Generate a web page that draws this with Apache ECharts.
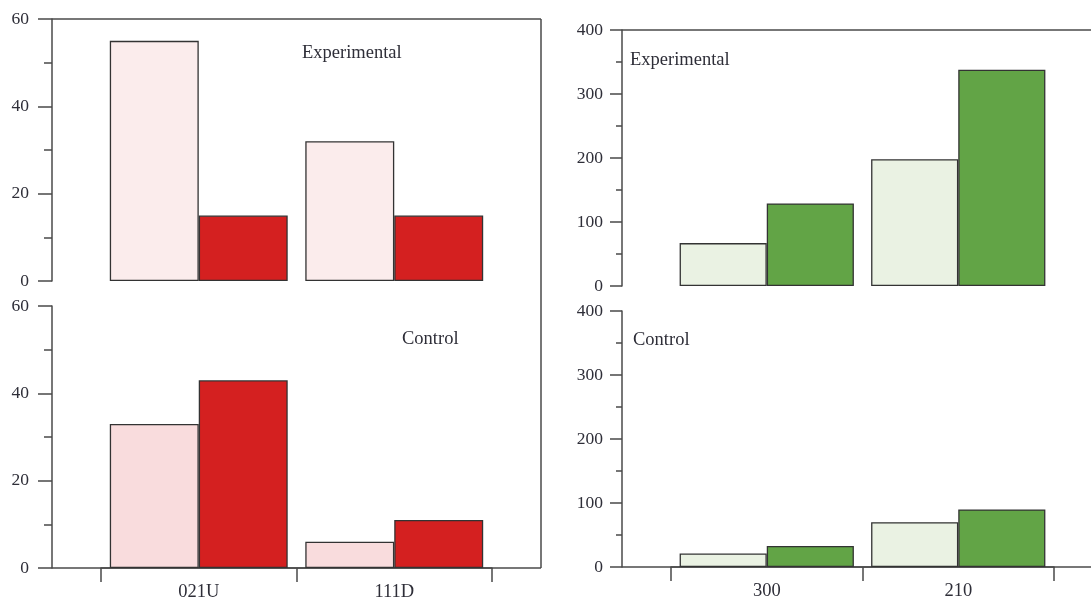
<!DOCTYPE html>
<html>
<head>
<meta charset="utf-8">
<script src="https://cdn.jsdelivr.net/npm/echarts@6/dist/echarts.min.js"></script>
<style>html,body{margin:0;padding:0;background:#fff;}#c{width:1091px;height:599px;}</style>
</head>
<body>
<div id="c"></div>
<script>
const categoriesLeft = ['021U', '111D'];
const categoriesRight = ['300', '210'];
const leftExpLight = [55, 32];
const leftExpDark = [15, 15];
const leftCtrlLight = [33, 6];
const leftCtrlDark = [43, 11];
const rightExpLight = [67, 198];
const rightExpDark = [129, 338];
const rightCtrlLight = [21, 70];
const rightCtrlDark = [33, 90];
const leftTicks = [0, 20, 40, 60];
const rightTicks = [0, 100, 200, 300, 400];

const FONT = 'Liberation Serif';
const TXT = '#2e2e38';
const LINE = '#4a4a4a';

const chart = echarts.init(document.getElementById('c'));

const grids = [
  {left: 101, width: 391, top: 19, height: 262, outerBoundsMode: 'none', containLabel: false},
  {left: 101, width: 391, top: 306, height: 262, outerBoundsMode: 'none', containLabel: false},
  {left: 671, width: 383, top: 30, height: 256, outerBoundsMode: 'none', containLabel: false},
  {left: 671, width: 383, top: 311, height: 256, outerBoundsMode: 'none', containLabel: false}
];

function xAx(i, cats, showBottom) {
  return {
    type: 'category', gridIndex: i, data: cats,
    axisLine: {show: showBottom, lineStyle: {color: LINE, width: 1.5}},
    axisTick: {show: showBottom, length: 14, alignWithLabel: false, lineStyle: {color: LINE, width: 1.5}},
    axisLabel: {show: showBottom, margin: 15, fontFamily: FONT, fontSize: 18.5, color: TXT},
    splitLine: {show: false}
  };
}
function yAx(i, ticks, tickLen, minorLen, margin) {
  return {
    type: 'value', gridIndex: i, min: ticks[0], max: ticks[ticks.length - 1],
    interval: ticks[1] - ticks[0], offset: 49,
    axisLine: {show: true, lineStyle: {color: LINE, width: 1.5}},
    axisTick: {show: true, length: tickLen, lineStyle: {color: LINE, width: 1.5}},
    minorTick: {show: true, splitNumber: 2, length: minorLen, lineStyle: {color: LINE, width: 1.5}},
    axisLabel: {margin: margin, fontFamily: FONT, fontSize: 17.5, color: TXT},
    splitLine: {show: false}
  };
}
function bar(i, data, color) {
  return {
    type: 'bar', xAxisIndex: i, yAxisIndex: i, data: data,
    barGap: '0%', barCategoryGap: '9%',
    itemStyle: {color: color, borderColor: '#333', borderWidth: 1.3},
    silent: true, animation: false
  };
}

const line = (x1, y1, x2, y2) => ({type: 'line', shape: {x1, y1, x2, y2}, style: {stroke: LINE, lineWidth: 1.5}, silent: true});
const label = (x, y, t) => ({type: 'text', x: x, y: y, style: {text: t, fontFamily: FONT, fontSize: 18.5, fill: TXT, textVerticalAlign: 'middle'}, silent: true});

chart.setOption({
  animation: false,
  grid: grids,
  xAxis: [xAx(0, categoriesLeft, false), xAx(1, categoriesLeft, true), xAx(2, categoriesRight, false), xAx(3, categoriesRight, true)],
  yAxis: [yAx(0, leftTicks, 14, 8, 23), yAx(1, leftTicks, 14, 8, 23), yAx(2, rightTicks, 12, 6, 19), yAx(3, rightTicks, 12, 6, 19)],
  series: [
    bar(0, leftExpLight, '#fbecec'), bar(0, leftExpDark, '#d42020'),
    bar(1, leftCtrlLight, '#f9dcdd'), bar(1, leftCtrlDark, '#d42020'),
    bar(2, rightExpLight, '#eaf2e3'), bar(2, rightExpDark, '#62a446'),
    bar(3, rightCtrlLight, '#eaf2e3'), bar(3, rightCtrlDark, '#62a446')
  ],
  graphic: [
    line(52, 19, 541, 19),
    line(541, 19, 541, 568),
    line(52, 568, 541, 568),
    line(622, 30, 1091, 30),
    line(622, 567, 1091, 567),
    label(302, 53, 'Experimental'),
    label(402, 339, 'Control'),
    label(630, 60, 'Experimental'),
    label(633, 340, 'Control')
  ]
});
</script>
</body>
</html>
